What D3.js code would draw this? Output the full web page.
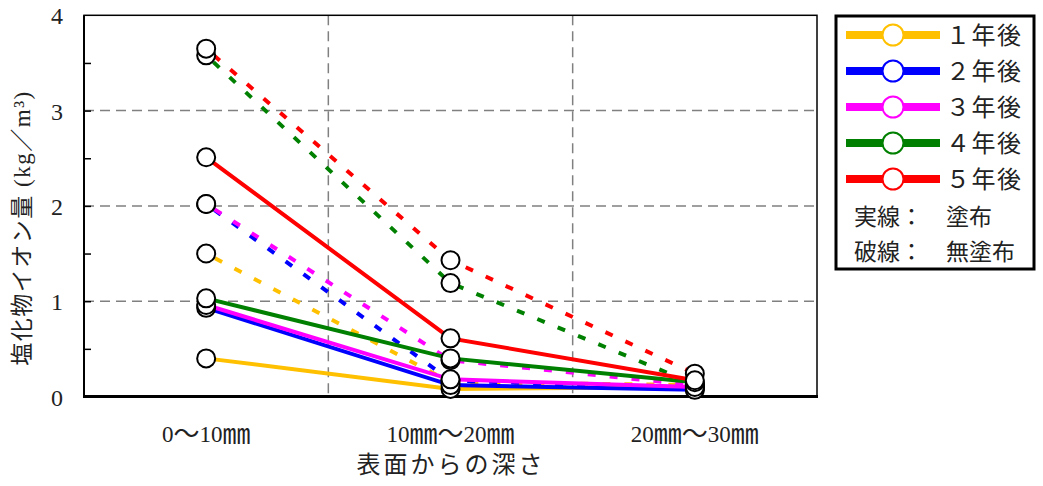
<!DOCTYPE html>
<html><head><meta charset="utf-8">
<script src="https://cdn.jsdelivr.net/npm/d3@7"></script>
<style>
html,body{margin:0;padding:0;background:#fff;}
text{font-family:'Liberation Serif','Noto Sans CJK JP',serif;fill:#222;}
</style></head>
<body><svg id="c" width="1043" height="486"></svg>
<script>
const categories = ["0～10㎜", "10㎜～20㎜", "20㎜～30㎜"];
const seriesNames = ["１年後", "２年後", "３年後", "４年後", "５年後"];
const seriesColors = ["#FFC000", "#0000FF", "#FF00FF", "#008000", "#FF0000"];
// 実線：塗布 (coated)
const coated1 = [0.40, 0.08, 0.10];
const coated2 = [0.93, 0.12, 0.07];
const coated3 = [0.96, 0.18, 0.10];
const coated4 = [1.03, 0.40, 0.15];
const coated5 = [2.51, 0.61, 0.17];
// 破線：無塗布 (uncoated)
const uncoated1 = [1.50, 0.15, 0.12];
const uncoated2 = [2.02, 0.17, 0.08];
const uncoated3 = [2.02, 0.38, 0.12];
const uncoated4 = [3.58, 1.19, 0.13];
const uncoated5 = [3.65, 1.43, 0.24];
const yTicks = [0, 1, 2, 3, 4];
const yMinorTicks = [0.5, 1, 1.5, 2, 2.5, 3, 3.5];
const yTitle = "塩化物イオン量 (kg／m³)";
const xTitle = "表面からの深さ";
const noteLines = ["実線：　塗布", "破線：　無塗布"];

const coated = [coated1, coated2, coated3, coated4, coated5];
const uncoated = [uncoated1, uncoated2, uncoated3, uncoated4, uncoated5];

const svg = d3.select("#c");
const L = 84, R = 817, T = 15.3, B = 396.5;
const x = d3.scaleBand().domain(categories).range([L, R]);
const y = d3.scaleLinear().domain([0, 4]).range([B, T]);
const cx = c => x(c) + x.bandwidth() / 2;

// grid
const grid = svg.append("g").attr("stroke", "#808080").attr("stroke-width", 1.5).attr("stroke-dasharray", "10,6");
yTicks.filter(v => v > 0 && v < 4).forEach(v => {
  grid.append("line").attr("x1", L).attr("x2", R).attr("y1", y(v)).attr("y2", y(v));
});
categories.slice(1).forEach(c => {
  grid.append("line").attr("x1", x(c)).attr("x2", x(c)).attr("y1", T).attr("y2", B);
});

// frame
svg.append("rect").attr("x", L).attr("y", T).attr("width", R - L).attr("height", B - T)
  .attr("fill", "none").attr("stroke", "#000").attr("stroke-width", 1.5);
svg.append("line").attr("x1", L).attr("x2", L).attr("y1", T).attr("y2", B).attr("stroke", "#000").attr("stroke-width", 2);
svg.append("line").attr("x1", L - 1).attr("x2", R + 1).attr("y1", B).attr("y2", B).attr("stroke", "#000").attr("stroke-width", 3);

// y axis ticks (inward) and labels
const yAxis = d3.axisRight(y).tickValues(yMinorTicks).tickSize(7).tickFormat("");
const ya = svg.append("g").attr("transform", `translate(${L},0)`).call(yAxis);
ya.select(".domain").remove();
ya.selectAll("line").attr("stroke", "#000").attr("stroke-width", 1.5);

svg.append("g").selectAll("text").data(yTicks).join("text")
  .attr("x", 63).attr("y", d => y(d) + 1).attr("text-anchor", "end")
  .attr("dominant-baseline", "central").attr("font-size", 24).text(d => d);

// x labels (wide symbols drawn a bit larger, as in the reference)
svg.append("g").selectAll("text").data(categories).join("text")
  .attr("x", d => cx(d)).attr("y", 434).attr("text-anchor", "middle")
  .attr("dominant-baseline", "central").attr("font-size", 23)
  .each(function(d) {
    const t = d3.select(this);
    d.split(/(㎜|～)/).filter(s => s.length).forEach(part => {
      const sp = t.append("tspan").text(part);
      if (part === "㎜") sp.attr("font-size", 28);
      if (part === "～") sp.attr("font-size", 26);
    });
  });

svg.append("text").attr("x", 451).attr("y", 465).attr("text-anchor", "middle")
  .attr("dominant-baseline", "central").attr("font-size", 24).attr("letter-spacing", 3).text(xTitle);

svg.append("text").attr("transform", "translate(22,228) rotate(-90)").attr("text-anchor", "middle")
  .attr("dominant-baseline", "central").attr("font-size", 23).attr("letter-spacing", 1.5).text(yTitle);

// lines
const line = d3.line().x((d, i) => cx(categories[i])).y(d => y(d));
const lg = svg.append("g");
uncoated.forEach((s, k) => {
  lg.append("path").attr("d", line(s)).attr("fill", "none").attr("stroke", seriesColors[k])
    .attr("stroke-width", 4).attr("stroke-dasharray", "8,14").attr("stroke-dashoffset", -10);
});
coated.forEach((s, k) => {
  lg.append("path").attr("d", line(s)).attr("fill", "none").attr("stroke", seriesColors[k])
    .attr("stroke-width", 4);
});
// markers
const mg = svg.append("g");
[...uncoated, ...coated].forEach(s => {
  mg.selectAll(null).data(s).join("circle")
    .attr("cx", (d, i) => cx(categories[i])).attr("cy", d => y(d)).attr("r", 9)
    .attr("fill", "#fff").attr("stroke", "#000").attr("stroke-width", 2);
});

// legend
const leg = svg.append("g");
leg.append("rect").attr("x", 836).attr("y", 16).attr("width", 198).attr("height", 253)
  .attr("fill", "#fff").attr("stroke", "#000").attr("stroke-width", 3);
const rowY = d3.scaleLinear().domain([0, 1]).range([35, 71]);
seriesNames.forEach((n, k) => {
  const yy = rowY(k);
  leg.append("line").attr("x1", 846).attr("x2", 940).attr("y1", yy).attr("y2", yy)
    .attr("stroke", seriesColors[k]).attr("stroke-width", 8);
  leg.append("circle").attr("cx", 893).attr("cy", yy).attr("r", 10.5)
    .attr("fill", "#fff").attr("stroke", seriesColors[k]).attr("stroke-width", 2);
  leg.append("text").attr("x", 946).attr("y", yy + 1).attr("dominant-baseline", "central")
    .attr("font-size", 24).attr("letter-spacing", 1.5).text(n);
});
noteLines.forEach((t, i) => {
  leg.append("text").attr("x", 854).attr("y", 217 + i * 35).attr("dominant-baseline", "central")
    .attr("font-size", 23).text(t);
});
</script></body></html>
